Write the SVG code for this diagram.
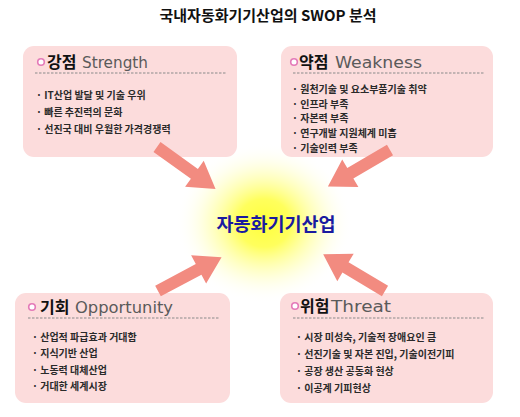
<svg xmlns="http://www.w3.org/2000/svg" width="520" height="417" viewBox="0 0 520 417">
<defs>
<radialGradient id="glow" cx="0.5" cy="0.5" r="0.5">
<stop offset="0" stop-color="#ffff30" stop-opacity="0.95"/>
<stop offset="0.3" stop-color="#ffff40" stop-opacity="0.85"/>
<stop offset="0.65" stop-color="#ffffa0" stop-opacity="0.45"/>
<stop offset="1" stop-color="#ffffff" stop-opacity="0"/>
</radialGradient>
<path id="arr" d="M0,-6 L46,-6 L46,-16 L72,0 L46,16 L46,6 L0,6 Z"/>
</defs>
<style>
.box{fill:#fcdcdc}
.dash{stroke:#8a8a8a;stroke-width:1;stroke-dasharray:2.5,1.5;fill:none}
.dot{fill:#ffffff;stroke:#e47ab8;stroke-width:1.6}
.ko{font-family:"Noto Sans CJK KR","Noto Sans",sans-serif;font-weight:bold;font-size:16px;fill:#111}
.en{font-family:"DejaVu Sans","Noto Sans",sans-serif;font-size:16px;fill:#5a5a5a}
.item{font-family:"Noto Sans CJK KR","Noto Sans",sans-serif;font-weight:bold;font-size:10px;fill:#2a2a2a}
.title{font-family:"Noto Sans CJK KR","Noto Sans",sans-serif;font-weight:bold;font-size:15px;fill:#111}
.center{font-family:"Noto Sans CJK KR","Noto Sans",sans-serif;font-weight:bold;font-size:18.5px;fill:#1a1aa0}
.arrow{fill:#f28b80}
</style>
<rect width="520" height="417" fill="#ffffff"/>
<text class="title" x="268" y="21" text-anchor="middle">국내자동화기기산업의 SWOP 분석</text>

<g id="center">
<ellipse cx="264" cy="223" rx="88" ry="80" fill="url(#glow)"/>
<text class="center" x="276" y="231" text-anchor="middle">자동화기기산업</text>
</g>

<g id="strength">
<rect class="box" x="23" y="46" width="214" height="111" rx="11"/>
<circle class="dot" cx="41" cy="62" r="3.3"/>
<text class="ko" x="47" y="68">강점</text>
<text class="en" x="82" y="68" textLength="66" lengthAdjust="spacingAndGlyphs">Strength</text>
<line class="dash" x1="35" y1="73" x2="227" y2="73"/>
<text class="item" x="36" y="99">· IT산업 발달 및 기술 우위</text>
<text class="item" x="36" y="116">· 빠른 추진력의 문화</text>
<text class="item" x="36" y="133">· 선진국 대비 우월한 가격경쟁력</text>
</g>

<g id="weakness">
<rect class="box" x="281" y="46" width="212" height="111" rx="11"/>
<circle class="dot" cx="294" cy="62" r="3.3"/>
<text class="ko" x="299" y="68">약점</text>
<text class="en" x="335" y="68" textLength="87" lengthAdjust="spacingAndGlyphs">Weakness</text>
<line class="dash" x1="293" y1="73" x2="485" y2="73"/>
<text class="item" x="292" y="93">· 원천기술 및 요소부품기술 취약</text>
<text class="item" x="292" y="107.5">· 인프라 부족</text>
<text class="item" x="292" y="122">· 자본력 부족</text>
<text class="item" x="292" y="137">· 연구개발 지원체계 미흡</text>
<text class="item" x="292" y="152">· 기술인력 부족</text>
</g>

<g id="opportunity">
<rect class="box" x="15" y="293" width="215" height="110" rx="11"/>
<circle class="dot" cx="32" cy="307" r="3.3"/>
<text class="ko" x="40" y="313">기회</text>
<text class="en" x="75" y="313" textLength="98" lengthAdjust="spacingAndGlyphs">Opportunity</text>
<line class="dash" x1="28" y1="318" x2="220" y2="318"/>
<text class="item" x="32" y="341">· 산업적 파급효과 거대함</text>
<text class="item" x="32" y="357">· 지식기반 산업</text>
<text class="item" x="32" y="373.5">· 노동력 대체산업</text>
<text class="item" x="32" y="390">· 거대한 세계시장</text>
</g>

<g id="threat">
<rect class="box" x="280" y="293" width="213" height="110" rx="11"/>
<circle class="dot" cx="295" cy="306" r="3.3"/>
<text class="ko" x="300" y="312">위험</text>
<text class="en" x="331" y="312" textLength="60" lengthAdjust="spacingAndGlyphs">Threat</text>
<line class="dash" x1="293" y1="318" x2="485" y2="318"/>
<text class="item" x="296" y="341">· 시장 미성숙, 기술적 장애요인 큼</text>
<text class="item" x="296" y="358">· 선진기술 및 자본 진입, 기술이전기피</text>
<text class="item" x="296" y="375">· 공장 생산 공동화 현상</text>
<text class="item" x="296" y="391.5">· 이공계 기피현상</text>
</g>

<g id="connectors">
<use href="#arr" class="arrow" transform="translate(157,147) rotate(35.6)"/>
<use href="#arr" class="arrow" transform="translate(390,150) rotate(149.6)"/>
<use href="#arr" class="arrow" transform="translate(158,291) rotate(-28)"/>
<use href="#arr" class="arrow" transform="translate(385,291) rotate(210.8)"/>
</g>
</svg>
